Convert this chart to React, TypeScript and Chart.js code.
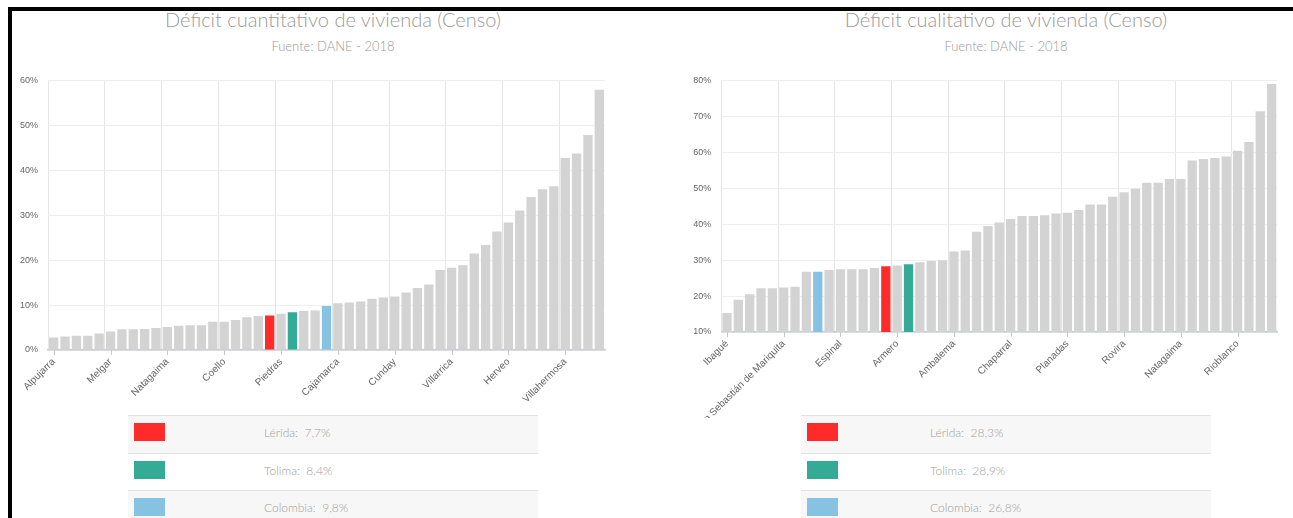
import React, { useEffect, useRef } from 'react';
import { Chart, registerables } from 'chart.js';

Chart.register(...registerables);

// ---------- DATA ----------
const cuantTitle = 'Déficit cuantitativo de vivienda (Censo)';
const cualTitle = 'Déficit cualitativo de vivienda (Censo)';
const sourceText = 'Fuente: DANE - 2018';

const cuantCategories = [
  'Alpujarra', 'Ibagué', 'Flandes', 'Honda', 'Carmen de Apicalá',
  'Melgar', 'Espinal', 'Venadillo', 'Guamo', 'Purificación',
  'Natagaima', 'Saldaña', 'Ambalema', 'Armero', 'Mariquita',
  'Coello', 'Fresno', 'Suárez', 'Coyaima', 'Lérida',
  'Piedras', 'Tolima', 'Líbano', 'Prado', 'Colombia',
  'Cajamarca', 'Falan', 'San Luis', 'Valle de San Juan', 'Ortega',
  'Cunday', 'Icononzo', 'Alvarado', 'Dolores', 'Palocabildo',
  'Villarrica', 'Anzoátegui', 'Casabianca', 'San Antonio', 'Ataco',
  'Herveo', 'Santa Isabel', 'Roncesvalles', 'Rovira', 'Murillo',
  'Villahermosa', 'Chaparral', 'Rioblanco', 'Planadas',
];
const cuantValues = [
  2.8, 3.0, 3.2, 3.2, 3.7,
  4.1, 4.6, 4.6, 4.7, 4.9,
  5.1, 5.4, 5.5, 5.5, 6.3,
  6.3, 6.7, 7.3, 7.6, 7.7,
  8.1, 8.4, 8.7, 8.8, 9.8,
  10.4, 10.6, 10.8, 11.4, 11.7,
  11.9, 12.8, 13.8, 14.6, 17.8,
  18.3, 18.9, 21.5, 23.4, 26.4,
  28.4, 31.1, 34.1, 35.8, 36.5,
  42.8, 43.8, 47.9, 58.0,
];

const cualCategories = [
  'Ibagué', 'Melgar', 'Flandes', 'Honda', 'Carmen de Apicalá',
  'San Sebastián de Mariquita', 'Venadillo', 'Guamo', 'Colombia', 'Alvarado',
  'Espinal', 'Coello', 'Fresno', 'Líbano', 'Lérida',
  'Armero', 'Tolima', 'Purificación', 'Piedras', 'Falan',
  'Ambalema', 'Saldaña', 'Cajamarca', 'Suárez', 'Villahermosa',
  'Chaparral', 'Alpujarra', 'Icononzo', 'Cunday', 'Prado',
  'Planadas', 'Herveo', 'Palocabildo', 'Casabianca', 'Valle de San Juan',
  'Rovira', 'Murillo', 'Villarrica', 'San Luis', 'Dolores',
  'Natagaima', 'Anzoátegui', 'Santa Isabel', 'Ortega', 'San Antonio',
  'Rioblanco', 'Roncesvalles', 'Coyaima', 'Ataco',
];
const cualValues = [
  15.3, 19.0, 20.5, 22.2, 22.2,
  22.4, 22.6, 26.8, 26.8, 27.3,
  27.5, 27.5, 27.5, 27.8, 28.3,
  28.5, 28.9, 29.4, 29.8, 30.0,
  32.4, 32.7, 37.9, 39.5, 40.5,
  41.5, 42.3, 42.3, 42.5, 43.0,
  43.2, 44.0, 45.5, 45.5, 47.7,
  48.9, 49.9, 51.6, 51.6, 52.6,
  52.6, 57.8, 58.2, 58.5, 58.9,
  60.5, 62.9, 71.5, 79.1,
];

const cuantYTicks = [0, 60, 10]; // min, max, step
const cualYTicks = [10, 80, 10];

const legendNames = ['Lérida', 'Tolima', 'Colombia'];
const cuantLegendValues = ['7,7%', '8,4%', '9,8%'];
const cualLegendValues = ['28,3%', '28,9%', '26,8%'];

// ---------- STYLE ----------
const highlight: Record<string, string> = {
  'Lérida': '#ff2b2b',
  'Tolima': '#33ab96',
  'Colombia': '#86c3e2',
};
const barGray = '#d3d3d3';
const titleFont = 'Lato, "Open Sans", sans-serif';
const axisFont = '"Liberation Sans", Arial, sans-serif';

const tickMarkPlugin = {
  id: 'tickMarks',
  afterDraw(chart: any) {
    const xs = chart.scales.x;
    const ctx = chart.ctx;
    const y = chart.chartArea.bottom;
    ctx.save();
    ctx.strokeStyle = '#c4cad2';
    ctx.lineWidth = 1;
    for (let i = 0; i < chart.data.labels.length; i += 5) {
      const x = Math.round(xs.getPixelForValue(i)) + 0.5;
      ctx.beginPath();
      ctx.moveTo(x, y);
      ctx.lineTo(x, y + 5);
      ctx.stroke();
    }
    ctx.restore();
  },
};

type Geo = { left: number; top: number; width: number; height: number; padRight: number; yWidth: number; xHeight: number; padTop: number };

function BarChart({ categories, values, yTicks, geo }: { categories: string[]; values: number[]; yTicks: number[]; geo: Geo }) {
  const ref = useRef<HTMLCanvasElement>(null);
  useEffect(() => {
    if (!ref.current) return;
    const colors = categories.map((c) => highlight[c] || barGray);
    const chart = new Chart(ref.current, {
      type: 'bar',
      data: {
        labels: categories,
        datasets: [
          {
            data: values,
            backgroundColor: colors,
            borderWidth: 0,
            barPercentage: 1,
            categoryPercentage: 0.82,
          },
        ],
      },
      options: {
        animation: false,
        responsive: false,
        maintainAspectRatio: false,
        layout: { padding: { top: geo.padTop, right: geo.padRight, left: 0, bottom: 0 } },
        plugins: {
          legend: { display: false },
          tooltip: { enabled: false },
          title: { display: false },
        },
        scales: {
          x: {
            grid: {
              offset: true,
              drawTicks: false,
              color: (ctx: any) => (ctx.index !== undefined && ctx.index % 5 === 0 ? '#e6e6e6' : 'rgba(0,0,0,0)'),
              lineWidth: 1,
            },
            border: { display: true, color: '#c4cad2', width: 1.5 },
            ticks: {
              autoSkip: false,
              maxRotation: 45,
              minRotation: 45,
              padding: 6,
              color: '#666666',
              font: { family: axisFont, size: 10 },
              callback: function (this: any, v: any, i: number) {
                return i % 5 === 0 ? this.getLabelForValue(v) : '';
              },
            },
            afterFit: (s: any) => {
              s.height = geo.xHeight;
            },
          },
          y: {
            min: yTicks[0],
            max: yTicks[1],
            ticks: {
              stepSize: yTicks[2],
              padding: 10,
              color: '#666666',
              font: { family: axisFont, size: 9 },
              callback: (v: any) => v + '%',
            },
            grid: { color: '#eeeeee', drawTicks: false },
            border: { display: false },
            afterFit: (s: any) => {
              s.width = geo.yWidth;
            },
          },
        },
      },
      plugins: [tickMarkPlugin],
    });
    return () => chart.destroy();
  }, []);
  return (
    <canvas
      ref={ref}
      width={geo.width}
      height={geo.height}
      style={{ position: 'absolute', left: geo.left, top: geo.top, width: geo.width, height: geo.height }}
    />
  );
}

function Titles({ center, title }: { center: number; title: string }) {
  const w = 640;
  return (
    <>
      <div
        style={{
          position: 'absolute', left: center - w / 2, top: 5, width: w, textAlign: 'center',
          fontFamily: titleFont, fontWeight: 300, fontSize: 20, color: '#9a9a9a', lineHeight: '28px', whiteSpace: 'nowrap',
        }}
      >
        {title}
      </div>
      <div
        style={{
          position: 'absolute', left: center - w / 2, top: 37, width: w, textAlign: 'center',
          fontFamily: titleFont, fontWeight: 300, fontSize: 13, color: '#9a9a9a', lineHeight: '18px', whiteSpace: 'nowrap',
        }}
      >
        {sourceText}
      </div>
    </>
  );
}

function LegendTable({ left, width, textLeft, values }: { left: number; width: number; textLeft: number; values: string[] }) {
  return (
    <div style={{ position: 'absolute', left, top: 415, width }}>
      {legendNames.map((n, i) => (
        <div
          key={n}
          style={{
            position: 'relative', height: 37.5, boxSizing: 'border-box',
            borderTop: '1.5px solid #e2e2e2', background: i % 2 === 0 ? '#f7f7f7' : '#ffffff',
          }}
        >
          <div style={{ position: 'absolute', left: 6, top: 7, width: 31, height: 18, background: highlight[n] }} />
          <div
            style={{
              position: 'absolute', left: textLeft, top: 7, lineHeight: '20px', fontFamily: titleFont, fontWeight: 300,
              fontSize: 12, color: '#a0a0a0', whiteSpace: 'pre',
            }}
          >
            {n + ':  ' + values[i]}
          </div>
        </div>
      ))}
    </div>
  );
}

export default function App() {
  return (
    <div style={{ position: 'absolute', left: 0, top: 0, width: 1293, height: 518, overflow: 'hidden', background: '#ffffff' }}>
      <div style={{ position: 'absolute', left: 8, top: 7, width: 1290, height: 4, background: '#000' }} />
      <div style={{ position: 'absolute', left: 8, top: 7, width: 4, height: 520, background: '#000' }} />

      <Titles center={333} title={cuantTitle} />
      <Titles center={1006} title={cualTitle} />

      <BarChart
        categories={cuantCategories}
        values={cuantValues}
        yTicks={cuantYTicks}
        geo={{ left: 0, top: 60, width: 620, height: 355, padRight: 15, yWidth: 48, xHeight: 65, padTop: 20.7 }}
      />
      <BarChart
        categories={cualCategories}
        values={cualValues}
        yTicks={cualYTicks}
        geo={{ left: 673, top: 60, width: 620, height: 358, padRight: 15.7, yWidth: 48.3, xHeight: 86, padTop: 20.7 }}
      />

      <LegendTable left={128} width={410} textLeft={136} values={cuantLegendValues} />
      <LegendTable left={801} width={410} textLeft={129} values={cualLegendValues} />
    </div>
  );
}
